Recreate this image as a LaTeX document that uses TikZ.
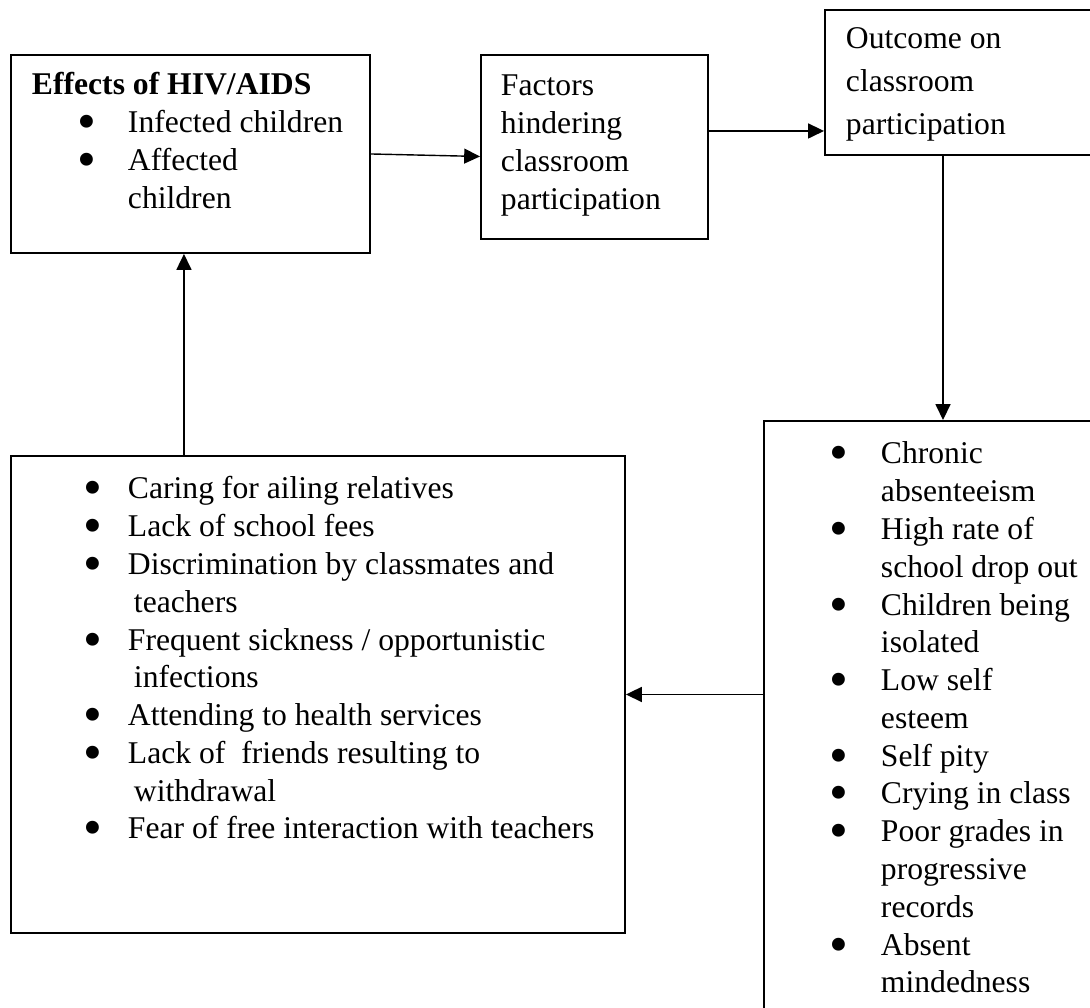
\documentclass[tikz,border=0pt]{standalone}
\usepackage{fontspec}
\setmainfont{Liberation Serif}
\usetikzlibrary{arrows.meta}
\newcommand{\bulglyph}{\raisebox{-0.22em}[0pt][0pt]{\scalebox{1.7}{\char"2022}}}
\newcommand{\bitem}[2][1.1cm]{\strut\hspace*{#1}\makebox[0pt]{\bulglyph}\hspace*{\dimexpr1.92cm-#1\relax}#2}
\newcommand{\bcont}[2][1.92cm]{\strut\hspace*{#1}#2}
\tikzset{
	frame/.style={draw, line width=1.1pt, anchor=north west, inner xsep=0.42cm, font=\fontsize{18}{21.5}\selectfont},
	link/.style={line width=0.8pt, -{Triangle[length=9pt,width=8.5pt]}}
}

\begin{document}
\begin{tikzpicture}
	%%%%% START %%%%%
	\useasboundingbox (0,0) rectangle (21.8,-20.14);
	\clip (0,0) rectangle (21.8,-20.14);
	
	\node[frame, inner ysep=0.27cm] (effects) at (0.2,-1.08) {\parbox[t][3.42cm][t]{6.34cm}{%
		\strut\textbf{Effects of HIV/AIDS}\\
		\bitem{Infected children}\\
		\bitem{Affected}\\
		\bcont{children}}};
	
	\node[frame, inner xsep=0.4cm, inner ysep=0.29cm] (factors) at (9.6,-1.08) {\parbox[t][3.1cm][t]{3.74cm}{%
		\strut Factors\\
		\strut hindering\\
		\strut classroom\\
		\strut participation}};
	
	\node[frame, inner ysep=0.18cm, font=\fontsize{18}{24.4}\selectfont] (outcome) at (16.48,-0.18) {\parbox[t][2.54cm][t]{5.16cm}{%
		\strut Outcome on\\
		\strut classroom\\
		\strut participation}};
	
	\node[frame, inner ysep=0.33cm] (results) at (15.26,-8.4) {\parbox[t][11.8cm][t]{6.66cm}{%
		\bitem[1.08cm]{Chronic}\\
		\bcont{absenteeism}\\
		\bitem[1.08cm]{High rate of}\\
		\bcont{school drop out}\\
		\bitem[1.08cm]{Children being}\\
		\bcont{isolated}\\
		\bitem[1.08cm]{Low self}\\
		\bcont{esteem}\\
		\bitem[1.08cm]{Self pity}\\
		\bitem[1.08cm]{Crying in class}\\
		\bitem[1.08cm]{Poor grades in}\\
		\bcont{progressive}\\
		\bcont{records}\\
		\bitem[1.08cm]{Absent}\\
		\bcont{mindedness}}};
	
	\node[frame, inner ysep=0.33cm] (barriers) at (0.2,-9.1) {\parbox[t][8.88cm][t]{11.44cm}{%
		\bitem[1.22cm]{Caring for ailing relatives}\\
		\bitem[1.22cm]{Lack of school fees}\\
		\bitem[1.22cm]{Discrimination by classmates and}\\
		\bcont[2.04cm]{teachers}\\
		\bitem[1.22cm]{Frequent sickness / opportunistic}\\
		\bcont[2.04cm]{infections}\\
		\bitem[1.22cm]{Attending to health services}\\
		\bitem[1.22cm]{Lack of \ friends resulting to}\\
		\bcont[2.04cm]{withdrawal}\\
		\bitem[1.22cm]{Fear of free interaction with teachers}}};
	
	% connectors
	\draw[link] (effects.east) -- ([yshift=-0.05cm]effects.east -| factors.west);
	\draw[link] ([yshift=0.32cm]factors.east) -- ([yshift=0.32cm]factors.east -| outcome.west);
	\draw[link] ([xshift=2.38cm]outcome.south west) -- ([xshift=2.38cm]outcome.south west |- results.north);
	\draw[link] (barriers.east -| results.west) -- (barriers.east);
	\draw[link] ([xshift=-0.13cm]effects.south |- barriers.north) -- ([xshift=-0.13cm]effects.south);
	
	%%%%% END %%%%%
\end{tikzpicture}
\end{document}
